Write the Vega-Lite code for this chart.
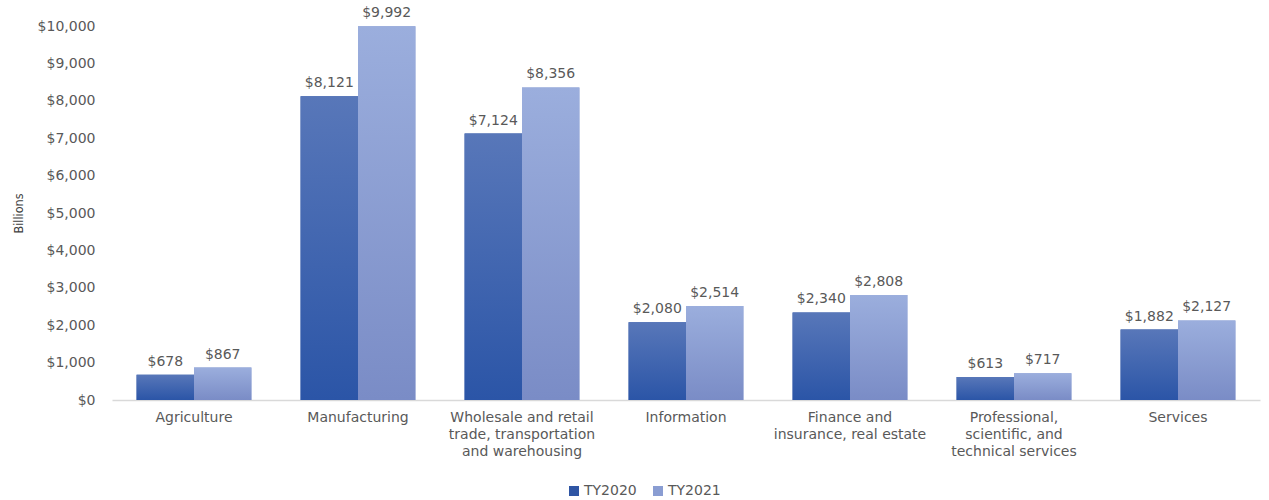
{
  "$schema": "https://vega.github.io/schema/vega-lite/v6.json",
  "autosize": {"type": "none"},
  "width": 1148,
  "height": 374,
  "padding": {"left": 112, "top": 26, "right": 9, "bottom": 100},
  "background": "white",
  "config": {
    "view": {"stroke": null},
    "font": "DejaVu Sans",
    "axis": {"labelFont": "DejaVu Sans", "labelColor": "#595959", "labelFontSize": 14}
  },
  "data": {
    "values": [
      {"sector": "Agriculture", "year": "TY2020", "value": 678},
      {"sector": "Agriculture", "year": "TY2021", "value": 867},
      {"sector": "Manufacturing", "year": "TY2020", "value": 8121},
      {"sector": "Manufacturing", "year": "TY2021", "value": 9992},
      {"sector": "Wholesale and retail|trade, transportation|and warehousing", "year": "TY2020", "value": 7124},
      {"sector": "Wholesale and retail|trade, transportation|and warehousing", "year": "TY2021", "value": 8356},
      {"sector": "Information", "year": "TY2020", "value": 2080},
      {"sector": "Information", "year": "TY2021", "value": 2514},
      {"sector": "Finance and|insurance, real estate", "year": "TY2020", "value": 2340},
      {"sector": "Finance and|insurance, real estate", "year": "TY2021", "value": 2808},
      {"sector": "Professional,|scientific, and|technical services", "year": "TY2020", "value": 613},
      {"sector": "Professional,|scientific, and|technical services", "year": "TY2021", "value": 717},
      {"sector": "Services", "year": "TY2020", "value": 1882},
      {"sector": "Services", "year": "TY2021", "value": 2127}
    ]
  },
  "encoding": {
    "x": {
      "field": "sector", "type": "nominal", "sort": null, "title": null,
      "scale": {"paddingInner": 0.3, "paddingOuter": 0.15},
      "axis": {
        "labelAngle": 0, "ticks": false, "domainColor": "#D9D9D9", "domainWidth": 1.5,
        "labelPadding": 10, "labelLineHeight": 17,
        "labelExpr": "split(datum.label, '|')"
      }
    },
    "xOffset": {"field": "year", "type": "nominal", "scale": {"paddingInner": 0, "paddingOuter": 0}},
    "y": {
      "field": "value", "type": "quantitative",
      "scale": {"domain": [0, 10000], "nice": false},
      "title": "Billions",
      "axis": {
        "values": [0, 1000, 2000, 3000, 4000, 5000, 6000, 7000, 8000, 9000, 10000],
        "format": "$,.0f", "grid": false, "domain": false, "ticks": false,
        "labelPadding": 17, "titlePadding": 12, "titleFontSize": 12.5,
        "titleFontWeight": "normal", "titleColor": "#404040", "titleFont": "DejaVu Sans Condensed"
      }
    }
  },
  "layer": [
    {
      "mark": {"type": "bar"},
      "encoding": {
        "color": {
          "field": "year", "type": "nominal",
          "scale": {"domain": ["TY2020", "TY2021"], "range": ["#2F55A4", "#8A9DD2"]},
          "legend": {
            "title": null, "orient": "none", "direction": "horizontal",
            "legendX": 455, "legendY": 458,
            "symbolType": "square", "symbolSize": 100, "symbolStrokeWidth": 0,
            "labelFontSize": 14, "labelColor": "#595959", "labelFont": "DejaVu Sans",
            "columnPadding": 14, "symbolOffset": 0, "labelOffset": 3
          }
        }
      }
    },
    {
      "transform": [{"filter": "datum.year === 'TY2020'"}],
      "mark": {
        "type": "bar",
        "color": {"gradient": "linear", "x1": 0, "y1": 0, "x2": 0, "y2": 1,
          "stops": [{"offset": 0, "color": "#5877B9"}, {"offset": 1, "color": "#2B55A7"}]}
      },
      "encoding": {}
    },
    {
      "transform": [{"filter": "datum.year === 'TY2021'"}],
      "mark": {
        "type": "bar",
        "color": {"gradient": "linear", "x1": 0, "y1": 0, "x2": 0, "y2": 1,
          "stops": [{"offset": 0, "color": "#9BAEDD"}, {"offset": 1, "color": "#7A8CC6"}]}
      },
      "encoding": {}
    },
    {
      "mark": {"type": "text", "baseline": "bottom", "dy": -6, "fontSize": 14, "color": "#595959", "font": "DejaVu Sans"},
      "encoding": {"text": {"field": "value", "type": "quantitative", "format": "$,.0f"}}
    }
  ]
}
